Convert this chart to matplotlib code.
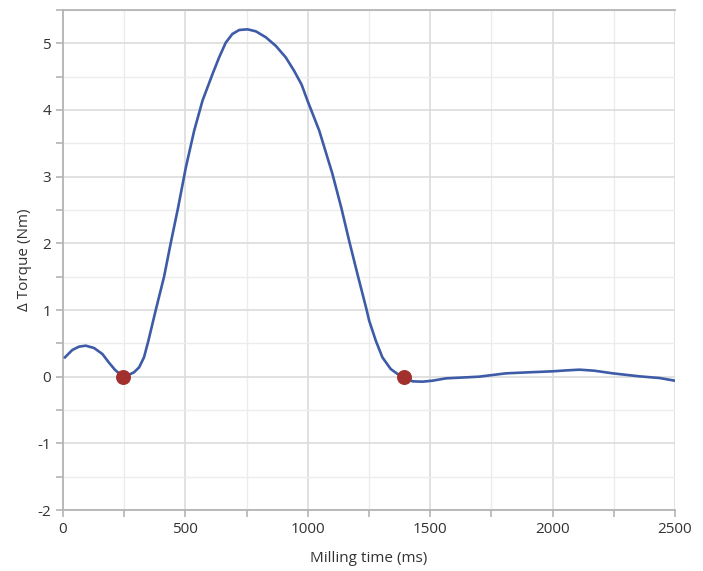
import numpy as np
import matplotlib
matplotlib.use("Agg")
import matplotlib.pyplot as plt
from matplotlib.ticker import MultipleLocator

# torque curve (ms, Nm)
time_ms = [8, 38, 65, 93, 127, 161, 188, 213, 236, 253, 270, 290, 311,
           331, 349, 364, 379, 396, 413, 440, 470, 502, 536, 570, 611, 638, 665,
           692, 720, 754, 788, 829, 870, 910, 944, 975, 999, 1047, 1101,
           1138, 1169, 1203, 1238, 1251, 1278, 1305, 1339, 1367, 1394,
           1428, 1469, 1510, 1565, 1647, 1700, 1810, 1900, 1998, 2060,
           2110, 2170, 2246, 2355, 2437, 2500]
torque = [0.29, 0.40, 0.45, 0.465, 0.43, 0.34, 0.21, 0.10, 0.03, 0.02,
          0.03, 0.065, 0.14, 0.29, 0.54, 0.77, 1.0, 1.25, 1.5, 2.0, 2.53, 3.14, 3.69,
          4.14, 4.54, 4.79, 5.01, 5.14, 5.20, 5.21, 5.18, 5.09, 4.96,
          4.79, 4.59, 4.38, 4.14, 3.69, 3.04, 2.52, 2.04, 1.54, 1.04,
          0.84, 0.54, 0.29, 0.115, 0.04, 0.0, -0.07, -0.075, -0.06,
          -0.025, -0.01, 0.0, 0.05, 0.065, 0.08, 0.095, 0.105, 0.09,
          0.05, 0.005, -0.02, -0.06]

# onset / end points
event_ms = [244, 1394]
event_torque = [0.0, 0.0]

plt.rcParams['font.family'] = ['Open Sans', 'DejaVu Sans']
plt.rcParams['axes.unicode_minus'] = False

fig = plt.figure(figsize=(7.03, 5.71), dpi=100)
ax = fig.add_axes([0.0896, 0.1068, 0.8704, 0.8757])

ax.plot(time_ms, torque, color='#3d5ba6', lw=1.9, zorder=3,
        solid_joinstyle='round')
ax.scatter(event_ms, event_torque, s=95, color='#a2302d', zorder=4)

ax.set_xlim(0, 2500)
ax.set_ylim(-2, 5.5)
ax.xaxis.set_major_locator(MultipleLocator(500))
ax.xaxis.set_minor_locator(MultipleLocator(250))
ax.yaxis.set_major_locator(MultipleLocator(1))
ax.yaxis.set_minor_locator(MultipleLocator(0.5))
ax.set_yticks(np.arange(-2, 6, 1))

ax.grid(which='major', color='#dcdcdc', lw=1.2)
ax.grid(which='minor', color='#ececec', lw=1.0)
ax.set_axisbelow(True)

for s in ['left', 'bottom', 'top']:
    ax.spines[s].set_color('#b4b4b4')
    ax.spines[s].set_linewidth(1.3)
ax.spines['right'].set_visible(False)

ax.tick_params(which='both', colors='#b4b4b4', labelcolor='#333333',
               labelsize=11, width=1.2, length=5)

ax.set_xlabel('Milling time (ms)', fontsize=11, color='#333333', labelpad=10)
ax.set_ylabel('Δ Torque (Nm)', fontsize=11, color='#333333', labelpad=4)

fig.savefig('out.png', dpi=100)
